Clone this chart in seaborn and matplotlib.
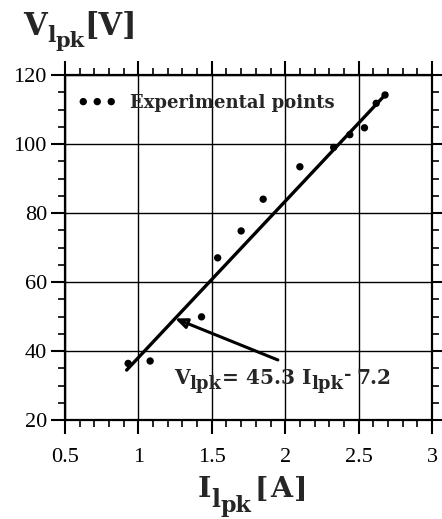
import matplotlib
matplotlib.use("Agg")
import matplotlib.pyplot as plt
from matplotlib.ticker import MultipleLocator
import seaborn as sns
import pandas as pd

# Measured peak load current / voltage pairs
current_a = [0.93, 1.08, 1.43, 1.54, 1.70, 1.85, 2.10, 2.33, 2.44, 2.54, 2.62, 2.68]
voltage_v = [36.4, 37.1, 49.9, 67.0, 74.8, 84.0, 93.4, 99.0, 102.7, 104.7, 111.8, 114.2]

# Linear fit V = slope * I + intercept
fit_slope = 45.3
fit_intercept = -7.2
fit_range = [0.92, 2.69]

x_ticks = [0.5, 1, 1.5, 2, 2.5, 3]
x_tick_labels = ["0.5", "1", "1.5", "2", "2.5", "3"]
y_ticks = [20, 40, 60, 80, 100, 120]

sns.set_style("ticks")
plt.rcParams["font.family"] = ["Liberation Serif", "DejaVu Serif"]
plt.rcParams["font.weight"] = "normal"
BOLD_FAMILY = ["DejaVu Serif"]

df = pd.DataFrame({"I": current_a, "V": voltage_v})
fit = pd.DataFrame({"I": fit_range,
                    "V": [fit_slope * x + fit_intercept for x in fit_range]})

W, H = 442, 519
fig = plt.figure(figsize=(W / 100, H / 100), dpi=100)
ax = fig.add_axes([65 / W, 1 - 420 / H, 367 / W, 345 / H])

ax.grid(True, color="black", linewidth=1.0, zorder=0)
ax.set_axisbelow(True)

sns.lineplot(data=fit, x="I", y="V", color="black", linewidth=2.4, ax=ax,
             legend=False, zorder=3)
sns.scatterplot(data=df, x="I", y="V", color="black", s=28, edgecolor="none",
                label="Experimental points", ax=ax, zorder=4)

ax.set_xlim(0.5, 3)
ax.set_ylim(20, 120)
ax.set_xticks(x_ticks)
ax.set_xticklabels(x_tick_labels)
ax.set_yticks(y_ticks)
ax.xaxis.set_minor_locator(MultipleLocator(0.1))
ax.yaxis.set_minor_locator(MultipleLocator(5))

for side in ["left", "right", "top", "bottom"]:
    ax.spines[side].set_visible(True)
    ax.spines[side].set_linewidth(1.6)
    ax.spines[side].set_color("black")

ax.tick_params(which="major", direction="out", length=10, width=1.5,
               top=True, right=True, labelsize=16, colors="black")
ax.tick_params(which="minor", direction="out", length=5, width=1.4,
               top=True, right=True)
ax.tick_params(axis="x", which="major", pad=10)
ax.tick_params(axis="y", which="major", pad=3)

ax.set_xlabel("")
ax.set_ylabel("")

ax.legend(loc="center left", bbox_to_anchor=(0.035, 0.919),
          scatterpoints=3, scatteryoffsets=[0.5], frameon=False,
          borderaxespad=0, borderpad=0, handlelength=2.15,
          handletextpad=0.75,
          prop={"family": BOLD_FAMILY, "weight": "bold", "size": 13})


def rich_text(x, y, transform, parts):
    """Draw consecutive bold text runs: (text, size, dx, dy) in points."""
    text, size, dx, dy = parts[0]
    first = ax.text(x, y, text, fontsize=size, fontweight="bold",
                    family=BOLD_FAMILY, transform=transform, ha="left",
                    va="baseline", zorder=6, clip_on=False)
    prev = first
    for text, size, dx, dy in parts[1:]:
        prev = ax.annotate(text, xy=(1, 0), xycoords=(prev, first),
                           xytext=(dx, dy), textcoords="offset points",
                           fontsize=size, fontweight="bold",
                           family=BOLD_FAMILY, ha="left", va="bottom",
                           zorder=6, annotation_clip=False)
    return first


# Fit equation with arrow pointing at the line
arrow_x = 1.25
ax.annotate("", xy=(arrow_x, fit_slope * arrow_x + fit_intercept),
            xytext=(1.95, 37.4),
            arrowprops=dict(arrowstyle="-|>,head_length=0.7,head_width=0.3",
                            color="black", lw=2.2, fill=False, shrinkA=0,
                            shrinkB=0),
            zorder=5)

rich_text(1.24, 30.4, ax.transData,
          [("V", 14.5, 0, 0), ("lpk", 13, 0, -3.2), ("= 45.3 I", 14.5, 0.8, 0),
           ("lpk", 13, 0, -3.2), ("-", 13, 0, 3), ("7.2", 14.5, 3.5, 0)])

# Axis titles
rich_text(23 / W, 1 - 35 / H, fig.transFigure,
          [("V", 22, 0, 0), ("l", 16, 0, -3.6), ("pk", 15, 0, -6.3),
           ("[V]", 22, 0, 0)])
rich_text(198 / W, 1 - 497 / H, fig.transFigure,
          [("I", 20.5, 0, 0), ("l", 17, 0, -6.7), ("pk", 16, 0, -10.1),
           ("[", 20.5, 2.5, 0), ("A", 20.5, 1.5, 0), ("]", 20.5, 1.5, 0)])

fig.savefig("out.png", dpi=100)
